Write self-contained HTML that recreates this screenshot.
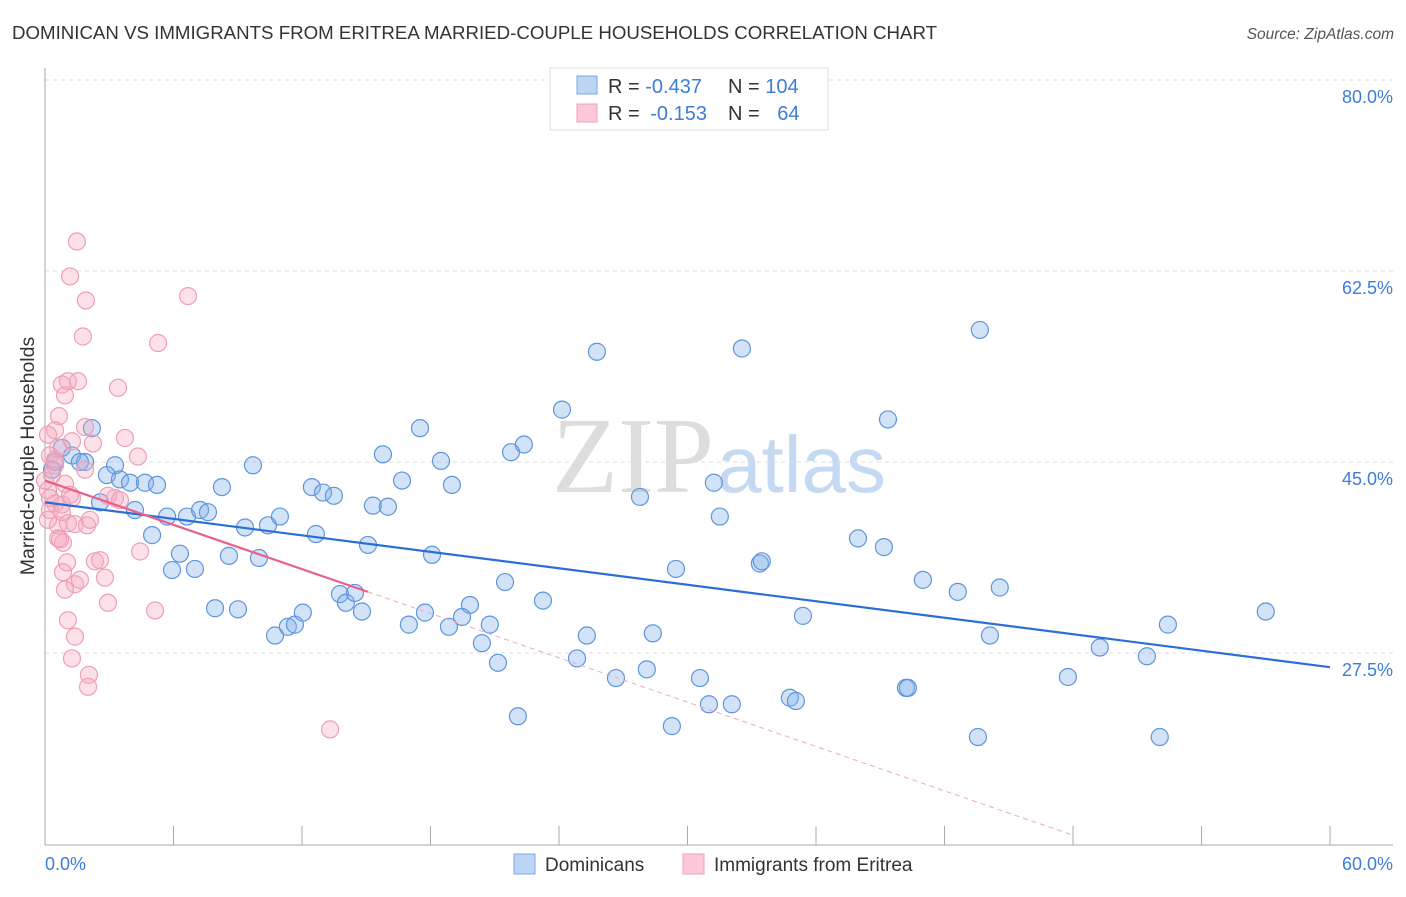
<!DOCTYPE html>
<html><head><meta charset="utf-8"><style>
body{margin:0;background:#fff;font-family:"Liberation Sans",sans-serif;}
</style></head><body>
<svg width="1406" height="892" xmlns="http://www.w3.org/2000/svg" id="svg">
<text x="12" y="39" font-size="18" fill="#333" textLength="925" lengthAdjust="spacingAndGlyphs">DOMINICAN VS IMMIGRANTS FROM ERITREA MARRIED-COUPLE HOUSEHOLDS CORRELATION CHART</text>
<text x="1394" y="39" font-size="15.5" fill="#555" text-anchor="end" font-style="italic">Source: ZipAtlas.com</text>
<text x="714" y="492" font-size="108" font-family="Liberation Serif,serif" fill="#ddd" text-anchor="end">ZIP</text>
<text x="717" y="492" font-size="80" fill="#c5daf2">atlas</text>
<g id="grid"></g>
<g id="axes"></g>
<g id="marks"></g>
<text transform="translate(34,456) rotate(-90)" font-size="19.5" fill="#333" text-anchor="middle">Married-couple Households</text>
<g>
<rect x="550" y="68" width="278" height="62" fill="#fff" stroke="#ddd"/>
<rect x="577" y="76" width="20" height="18" fill="#bcd5f5" stroke="#7aa8e6"/>
<rect x="577" y="104" width="20" height="18" fill="#fdc8d7" stroke="#f0a0b8"/>
<text x="608" y="93" font-size="20" fill="#333">R = <tspan fill="#3d7dd8">-0.437</tspan><tspan x="728">N = </tspan><tspan fill="#3d7dd8">104</tspan></text>
<text x="608" y="120" font-size="20" fill="#333">R = <tspan fill="#3d7dd8" dx="5">-0.153</tspan><tspan x="728">N = </tspan><tspan fill="#3d7dd8" dx="12">64</tspan></text>
</g>
<g>
<rect x="514" y="854" width="21" height="20" fill="#bcd5f5" stroke="#7aa8e6"/>
<text x="545" y="871" font-size="19" fill="#333">Dominicans</text>
<rect x="683" y="854" width="21" height="20" fill="#fdc8d7" stroke="#f0a0b8"/>
<text x="714" y="871" font-size="19" fill="#333">Immigrants from Eritrea</text>
</g>
</svg>
<script>
const blueX=[2.19,0.79,1.26,1.87,1.63,0.47,0.33,3.27,2.89,3.5,3.97,4.67,5.23,2.57,4.2,5.7,6.63,7.24,7.61,8.26,9.71,5.0,6.3,5.93,7.0,8.59,9.34,10.41,10.97,9.99,7.94,9.01,10.74,11.34,11.67,12.04,12.65,12.46,12.98,13.49,13.77,14.05,14.47,14.8,15.08,15.31,16.01,15.78,16.67,17.51,18.07,18.49,19.0,19.84,19.47,18.86,17.74,16.99,20.4,20.77,21.15,21.48,21.76,22.36,22.08,23.25,24.14,24.84,25.3,25.77,26.66,27.78,28.1,28.38,29.27,29.46,30.58,31.0,31.23,31.51,32.07,32.54,33.38,33.47,34.78,35.06,35.39,37.96,39.17,39.36,40.2,40.29,40.99,42.62,43.65,43.56,44.12,44.58,47.76,49.25,51.45,52.05,52.43,57.0];
const blueY=[48.1,46.3,45.6,45.0,45.0,45.0,44.3,44.7,43.8,43.4,43.1,43.1,42.9,41.3,40.6,40.0,40.0,40.6,40.4,42.7,44.7,38.3,36.6,35.1,35.2,36.4,39.0,39.2,40.0,36.2,31.6,31.5,29.1,29.9,30.1,31.2,38.4,42.7,42.2,41.9,32.9,32.1,33.0,31.3,37.4,41.0,40.9,45.7,43.3,48.1,36.5,45.1,42.9,31.9,30.8,29.9,31.2,30.1,28.4,30.1,26.6,34.0,45.9,46.6,21.7,32.3,49.8,27.0,29.1,55.1,25.2,41.8,26.0,29.3,20.8,35.2,25.2,22.8,43.1,40.0,22.8,55.4,35.7,35.9,23.4,23.1,30.9,38.0,37.2,48.9,24.3,24.3,34.2,33.1,57.1,19.8,29.1,33.5,25.3,28.0,27.2,19.8,30.1,31.3];
const pinkX=[1.49,1.17,1.91,6.68,1.77,5.28,1.07,1.54,0.79,0.93,3.41,0.65,0.47,1.87,3.73,2.24,4.34,1.26,0.61,0.23,0.47,0.33,0.93,1.26,0.14,0.47,2.94,3.27,3.5,0.61,1.07,1.4,1.96,4.44,0.84,0.61,2.33,1.03,0.84,2.8,1.4,0.93,2.94,5.14,1.07,1.4,1.26,2.05,2.01,13.31,0.14,0.23,0,0.7,1.87,0.47,0.14,0.79,1.17,1.63,0.23,0.79,2.57,2.1];
const pinkY=[65.2,62.0,59.8,60.2,56.5,55.9,52.4,52.4,52.1,51.1,51.8,49.2,47.9,48.2,47.2,46.7,45.5,46.9,46.3,45.6,44.7,43.8,43.0,41.7,42.4,41.2,41.9,41.7,41.5,39.2,39.4,39.3,39.2,36.8,37.6,38.0,35.9,35.8,34.9,34.4,33.8,33.3,32.1,31.4,30.5,29.0,27.0,25.5,24.4,20.5,39.7,40.6,43.3,37.9,44.3,45.2,47.5,41.1,42.0,34.2,41.7,40.4,36.0,39.7];
const blueLine=[[0,41.3],[60,26.2]];
const pinkSolid=[[0,43.3],[15.08,33.1]];
const pinkDash=[[15.08,33.1],[48,10.8]];
const yTicks=[80,62.5,45,27.5];
const yTickLabels=["80.0%","62.5%","45.0%","27.5%"];
const xTicks=[0,6,12,18,24,30,36,42,48,54,60];
const X=v=>45+v*21.417;
const Y=v=>80+(80-v)*10.914;
const NS="http://www.w3.org/2000/svg";
function mk(tag,attrs,parent){const e=document.createElementNS(NS,tag);for(const k in attrs)e.setAttribute(k,attrs[k]);document.getElementById(parent).appendChild(e);return e;}
yTicks.forEach((t,i)=>{
 const l=mk('line',{x1:45,x2:1393,y1:Y(t),y2:Y(t),stroke:'#ddd','stroke-dasharray':'4,4'},'grid');
 
 
 const tx=mk('text',{x:1393,y:Y(t)+23,'font-size':18,fill:'#3d7dd8','text-anchor':'end'},'grid');
 tx.textContent=yTickLabels[i];
 
 
});
let a=mk('line',{x1:45,x2:45,y1:68,y2:845,stroke:'#aaa'},'axes');


a=mk('line',{x1:45,x2:1393,y1:845,y2:845,stroke:'#aaa'},'axes');


xTicks.forEach(t=>{
 const l=mk('line',{x1:X(t),x2:X(t),y1:826,y2:845,stroke:'#aaa'},'axes');
 
 
});
[[0,"0.0%",'start',45],[60,"60.0%",'end',1393]].forEach(d=>{
 const tx=mk('text',{x:d[3],y:870,'font-size':18,fill:'#3d7dd8','text-anchor':d[2]},'axes');
 tx.textContent=d[1];
 
 
});
blueX.forEach((x,i)=>{
 const c=mk('circle',{cx:X(x),cy:Y(blueY[i]),r:8.5,fill:'rgba(130,175,232,0.35)',stroke:'#5e95dd','stroke-width':1.2},'marks');
 
 
});
pinkX.forEach((x,i)=>{
 const c=mk('circle',{cx:X(x),cy:Y(pinkY[i]),r:8.5,fill:'rgba(246,170,192,0.35)',stroke:'#ee9fb6','stroke-width':1.2},'marks');
 
 
});
let l=mk('line',{x1:X(blueLine[0][0]),y1:Y(blueLine[0][1]),x2:X(blueLine[1][0]),y2:Y(blueLine[1][1]),stroke:'#2a6fd6','stroke-width':2.2},'marks');


l=mk('line',{x1:X(pinkSolid[0][0]),y1:Y(pinkSolid[0][1]),x2:X(pinkSolid[1][0]),y2:Y(pinkSolid[1][1]),stroke:'#e8608c','stroke-width':2.2},'marks');


l=mk('line',{x1:X(pinkDash[0][0]),y1:Y(pinkDash[0][1]),x2:X(pinkDash[1][0]),y2:Y(pinkDash[1][1]),stroke:'#eeaabf','stroke-width':1,'stroke-dasharray':'5,4'},'marks');


</script>
</body></html>
